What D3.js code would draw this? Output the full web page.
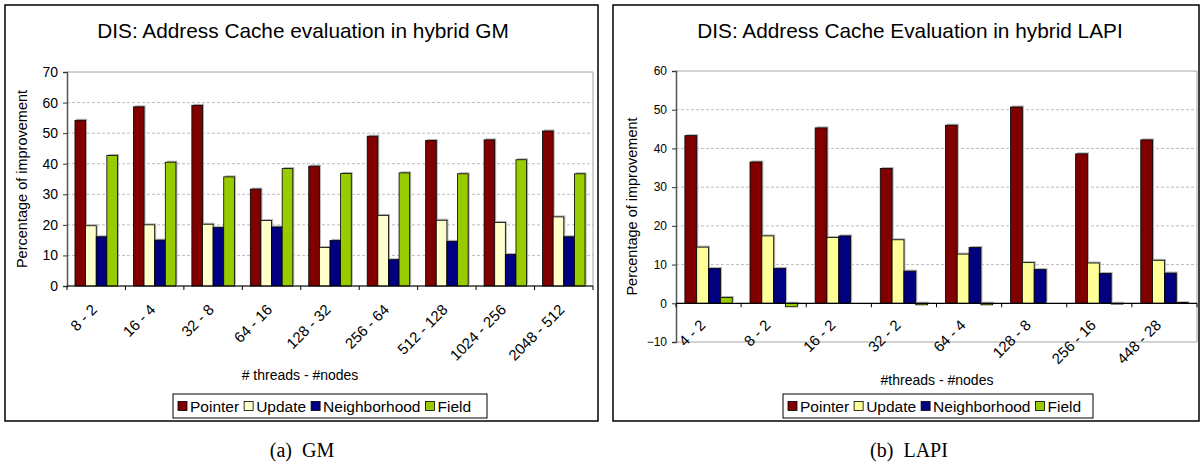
<!DOCTYPE html>
<html>
<head>
<meta charset="utf-8">
<script src="https://cdn.jsdelivr.net/npm/d3@7"></script>
<style>
  body { margin: 0; background: #fff; }
  text { font-family: Arial, "Liberation Sans", sans-serif; }
</style>
</head>
<body>
<div id="chart"></div>
<script>
// values
const series = ['Pointer', 'Update', 'Neighborhood', 'Field']

const gmGroups = ['8 - 2', '16 - 4', '32 - 8', '64 - 16', '128 - 32', '256 - 64', '512 - 128', '1024 - 256', '2048 - 512']
const gmPointer = [54.2, 58.6, 59.1, 31.7, 39.2, 49.0, 47.6, 47.8, 50.7]
const gmUpdate = [19.7, 20.0, 20.2, 21.4, 12.6, 23.1, 21.5, 20.8, 22.6]
const gmNeighborhood = [16.1, 15.0, 19.1, 19.3, 14.9, 8.6, 14.6, 10.3, 16.1]
const gmField = [42.7, 40.5, 35.7, 38.4, 36.8, 37.0, 36.7, 41.3, 36.7]
const gmTicks = [0, 10, 20, 30, 40, 50, 60, 70]

const lapiGroups = ['4 - 2', '8 - 2', '16 - 2', '32 - 2', '64 - 4', '128 - 8', '256 - 16', '448 - 28']
const lapiPointer = [43.3, 36.5, 45.3, 34.8, 46.0, 50.7, 38.6, 42.2]
const lapiUpdate = [14.5, 17.4, 17.0, 16.4, 12.7, 10.5, 10.4, 11.1]
const lapiNeighborhood = [9.0, 9.0, 17.4, 8.3, 14.4, 8.7, 7.7, 7.8]
const lapiField = [1.5, -0.9, 0, -0.4, -0.4, 0, -0.2, 0.2]
const lapiTicks = [-10, 0, 10, 20, 30, 40, 50, 60]

const svg = d3.select('#chart').append('svg')
  .attr('width', 1201)
  .attr('height', 464)

function drawChart(cfg) {
  const g = svg.append('g')
  const values = [cfg.pointer, cfg.update, cfg.neighborhood, cfg.field]
  const rows = cfg.groups.map((name, i) => ({
    name: name,
    bars: series.map((s, j) => ({ key: s, value: values[j][i] }))
  }))

  // outer frame
  g.append('rect')
    .attr('x', cfg.box[0]).attr('y', cfg.box[1])
    .attr('width', cfg.box[2]).attr('height', cfg.box[3])
    .attr('fill', 'white').attr('stroke', 'black').attr('stroke-width', 1.5)

  const x0 = d3.scaleBand().domain(cfg.groups).range([cfg.plot.left, cfg.plot.right])
  const x1 = d3.scaleBand().domain(series).range([0, x0.bandwidth()]).paddingOuter(0.75)
  const y = d3.scaleLinear().domain(cfg.domain).range([cfg.plot.bottom, cfg.plot.top])
  const color = d3.scaleOrdinal().domain(series).range(cfg.colors)

  // gridlines
  g.append('g')
    .selectAll('line')
    .data(cfg.ticks.slice(1, -1))
    .enter()
    .append('line')
    .attr('x1', cfg.plot.left).attr('x2', cfg.plot.right)
    .attr('y1', (d) => y(d)).attr('y2', (d) => y(d))
    .attr('stroke', '#bdbdbd').attr('stroke-dasharray', '3,2')

  // plot border (top / right / bottom)
  g.append('path')
    .attr('d', `M${cfg.plot.left},${y(cfg.domain[1])}H${cfg.plot.right}V${y(cfg.domain[0])}H${cfg.plot.left}`)
    .attr('fill', 'none').attr('stroke', '#a6a6a6')

  // bars with a light shadow
  const grp = g.append('g')
    .selectAll('g')
    .data(rows)
    .enter()
    .append('g')
    .attr('transform', (d) => `translate(${x0(d.name)},0)`)

  grp.selectAll('rect.shadow')
    .data((d) => d.bars)
    .enter()
    .append('rect')
    .attr('class', 'shadow')
    .attr('x', (d) => x1(d.key) + 1.5)
    .attr('y', (d) => Math.min(y(d.value), y(0)) - 1.5)
    .attr('width', x1.bandwidth())
    .attr('height', (d) => Math.abs(y(d.value) - y(0)))
    .attr('fill', '#b0b0b0')

  grp.selectAll('rect.bar')
    .data((d) => d.bars)
    .enter()
    .append('rect')
    .attr('class', 'bar')
    .attr('x', (d) => x1(d.key))
    .attr('y', (d) => Math.min(y(d.value), y(0)))
    .attr('width', x1.bandwidth())
    .attr('height', (d) => Math.abs(y(d.value) - y(0)))
    .attr('fill', (d) => color(d.key))
    .attr('stroke', 'black').attr('stroke-width', 0.8)

  // y axis
  const yAxis = g.append('g')
    .attr('transform', `translate(${cfg.plot.left},0)`)
    .call(d3.axisLeft(y).tickValues(cfg.ticks).tickSize(4).tickPadding(5))
  yAxis.select('.domain').attr('stroke', '#555').attr('stroke-width', 1.5)
  yAxis.selectAll('.tick line').attr('stroke', '#333')
  yAxis.selectAll('text').attr('font-size', cfg.tickFont).attr('fill', 'black')

  // x axis at zero
  const xAxis = g.append('g').attr('transform', `translate(0,${y(0)})`)
  xAxis.append('line')
    .attr('x1', cfg.plot.left).attr('x2', cfg.plot.right)
    .attr('stroke', 'black').attr('stroke-width', 1.2)
  xAxis.selectAll('line.tk')
    .data(cfg.groups.concat(['end']))
    .enter()
    .append('line')
    .attr('class', 'tk')
    .attr('x1', (d, i) => cfg.plot.left + i * x0.step())
    .attr('x2', (d, i) => cfg.plot.left + i * x0.step())
    .attr('y1', 0).attr('y2', 4)
    .attr('stroke', 'black')
  xAxis.selectAll('text')
    .data(cfg.groups)
    .enter()
    .append('text')
    .attr('transform', (d) => `translate(${x0(d) + x0.bandwidth() / 2 + cfg.labelDx},${cfg.labelDy}) rotate(-45)`)
    .attr('text-anchor', 'end')
    .attr('dy', '0.35em')
    .attr('font-size', 15)
    .text((d) => d)

  // titles
  g.append('text')
    .attr('x', cfg.titleX).attr('y', 38)
    .attr('text-anchor', 'middle').attr('font-size', 20.8)
    .text(cfg.title)
  g.append('text')
    .attr('transform', `translate(${cfg.yTitleX},${(cfg.plot.top + cfg.plot.bottom) / 2}) rotate(-90)`)
    .attr('text-anchor', 'middle').attr('font-size', 14.5)
    .text('Percentage of improvement')
  g.append('text')
    .attr('x', cfg.xTitle[0]).attr('y', cfg.xTitle[1])
    .attr('text-anchor', 'middle').attr('font-size', 14)
    .text(cfg.xTitleText)

  // legend
  const lg = g.append('g').attr('transform', `translate(${cfg.legend[0]},${cfg.legend[1]})`)
  lg.append('rect')
    .attr('width', cfg.legend[2]).attr('height', 24)
    .attr('fill', 'white').attr('stroke', 'black')
  let lx = 5
  series.forEach((s) => {
    lg.append('rect')
      .attr('x', lx).attr('y', 7.5).attr('width', 9).attr('height', 9)
      .attr('fill', color(s)).attr('stroke', 'black').attr('stroke-width', 0.8)
    const t = lg.append('text')
      .attr('x', lx + 12).attr('y', 17.5)
      .attr('font-size', 15.5)
      .text(s)
    lx += 12 + t.node().getComputedTextLength() + 5
  })

  // caption
  svg.append('text')
    .attr('x', cfg.caption[0]).attr('y', 457)
    .attr('text-anchor', 'middle')
    .style('font-family', '"Liberation Serif", "Times New Roman", serif')
    .style('white-space', 'pre')
    .attr('font-size', 20)
    .text(cfg.captionText)
}

drawChart({
  groups: gmGroups,
  pointer: gmPointer, update: gmUpdate, neighborhood: gmNeighborhood, field: gmField,
  ticks: gmTicks, domain: [0, 70],
  colors: ['#800000', '#ffffcc', '#000080', '#99cc00'],
  box: [5, 5, 593, 416],
  plot: { left: 67, right: 593, top: 72, bottom: 286 },
  tickFont: 14,
  labelDx: -2, labelDy: 21,
  title: 'DIS: Address Cache evaluation in hybrid GM', titleX: 303,
  yTitleX: 27,
  xTitle: [300, 380], xTitleText: '# threads - #nodes',
  legend: [173, 394, 314],
  caption: [302, 457], captionText: '(a)  GM'
})

drawChart({
  groups: lapiGroups,
  pointer: lapiPointer, update: lapiUpdate, neighborhood: lapiNeighborhood, field: lapiField,
  ticks: lapiTicks, domain: [-10, 60],
  colors: ['#800000', '#ffff99', '#000080', '#99cc00'],
  box: [613, 5, 586, 416],
  plot: { left: 676, right: 1197, top: 71, bottom: 342 },
  tickFont: 12,
  labelDx: -6, labelDy: 19,
  title: 'DIS: Address Cache Evaluation in hybrid LAPI', titleX: 910,
  yTitleX: 637,
  xTitle: [937, 385], xTitleText: '#threads - #nodes',
  legend: [783, 394, 310],
  caption: [909, 457], captionText: '(b)  LAPI'
})
</script>
</body>
</html>
